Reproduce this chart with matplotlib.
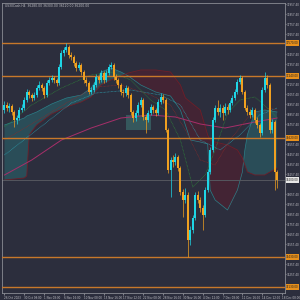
import matplotlib
matplotlib.use("Agg")
import matplotlib.pyplot as plt
from matplotlib.patches import Rectangle
import numpy as np

# ---------------- data ----------------
closes = [36950, 36920, 36940, 36880, 36800, 36820, 36900, 36920, 37000, 37080,
          37050, 37020, 37050, 37120, 37150, 37120, 37050, 37170, 37200, 37220,
          37200, 37170, 37330, 37470, 37500, 37530, 37450, 37430, 37370, 37320,
          37350, 37280, 37200, 37170, 37080, 37100, 37150, 37230, 37200, 37270,
          37200, 37270, 37330, 37350, 37230, 37200, 37150, 37080, 37070, 37120,
          37050, 36880, 36820, 36870, 36950, 37000, 36830, 36800, 36870, 36930,
          36900, 36870, 36980, 37030, 37000, 36700, 36300, 36400, 36380, 36430,
          36320, 36080, 36000, 36050, 35600, 35700, 35820, 36050, 36000, 35920,
          35850, 36100, 36280, 36500, 36800, 36920, 36880, 36920, 36870, 36930,
          36900, 36970, 37020, 37080, 37180, 37220, 37080, 36920, 36880, 36850,
          36900, 36800, 36750, 36670, 37100, 37220, 37150, 36700, 36780, 36280,
          36200]
opens = [36900, 36950, 36920, 36940, 36880, 36800, 36820, 36900, 36920, 37000,
         37080, 37050, 37020, 37050, 37120, 37150, 37120, 37050, 37170, 37200,
         37220, 37200, 37170, 37330, 37470, 37500, 37530, 37450, 37430, 37370,
         37320, 37350, 37280, 37200, 37170, 37080, 37100, 37150, 37230, 37200,
         37270, 37200, 37270, 37330, 37350, 37230, 37200, 37150, 37080, 37070,
         37120, 37050, 36880, 36820, 36870, 36950, 37000, 36830, 36800, 36870,
         36930, 36900, 36870, 36980, 37030, 37000, 36700, 36300, 36400, 36380,
         36430, 36320, 36080, 36000, 36050, 35600, 35700, 35820, 36050, 36000,
         35920, 35850, 36100, 36280, 36500, 36800, 36920, 36880, 36920, 36870,
         36930, 36900, 36970, 37020, 37080, 37180, 37220, 37080, 36920, 36880,
         36850, 36900, 36800, 36750, 36670, 37100, 37220, 37150, 36700, 36780,
         36280]
highs = [36990, 36980, 36970, 36960, 36900, 36850, 36930, 36960, 37030, 37110,
         37100, 37070, 37080, 37150, 37190, 37170, 37140, 37200, 37230, 37250,
         37240, 37220, 37360, 37500, 37530, 37570, 37550, 37480, 37450, 37390,
         37380, 37370, 37300, 37230, 37190, 37130, 37180, 37260, 37250, 37300,
         37290, 37300, 37360, 37380, 37370, 37260, 37220, 37170, 37110, 37150,
         37140, 37070, 36900, 36900, 36980, 37030, 37020, 36860, 36900, 36960,
         36950, 36920, 37010, 37070, 37060, 37020, 36720, 36430, 36450, 36470,
         36450, 36340, 36110, 36120, 36080, 35740, 35850, 36080, 36090, 36030,
         35950, 36130, 36310, 36530, 36830, 36950, 37000, 36960, 36950, 36970,
         36960, 37000, 37050, 37110, 37210, 37250, 37240, 37100, 36950, 36910,
         36930, 36920, 36830, 36770, 37130, 37280, 37250, 37170, 36810, 36800,
         36300]
lows = [36870, 36890, 36880, 36850, 36730, 36760, 36800, 36880, 36900, 36980,
        37020, 36990, 37000, 37030, 37100, 37090, 37020, 37030, 37150, 37180,
        37170, 37140, 37150, 37310, 37440, 37480, 37420, 37400, 37340, 37290,
        37300, 37250, 37170, 37140, 37060, 37060, 37080, 37130, 37170, 37180,
        37170, 37180, 37250, 37310, 37200, 37170, 37120, 37050, 37030, 37040,
        37020, 36850, 36780, 36790, 36850, 36930, 36800, 36670, 36780, 36850,
        36870, 36840, 36850, 36960, 36970, 36680, 36270, 36030, 36330, 36350,
        36290, 36050, 35830, 35970, 35430, 35550, 35670, 35800, 35970, 35880,
        35700, 35830, 36080, 36260, 36480, 36780, 36850, 36830, 36800, 36850,
        36860, 36880, 36950, 37000, 37060, 37160, 37060, 36900, 36850, 36820,
        36830, 36770, 36720, 36630, 36650, 37080, 37120, 36670, 36670, 36100,
        36120]

# Ichimoku cloud (Senkou span A / B) sampled at candle indices
cloud_idx = [0, 8, 9, 10, 13, 19, 25, 31, 35, 39, 43, 47, 50, 55, 61, 67, 71,
             73, 75, 79, 82, 83, 85, 90, 94, 96, 97, 98, 101, 105, 110]
span_a = [36750, 36820, 36840, 36850, 36880, 36960, 37020, 37050, 37120, 37280,
          37320, 37280, 37240, 37150, 37080, 37040, 36900, 36750, 36600, 36580,
          36560, 36100, 36000, 35900, 36100, 36280, 36500, 36650, 36880, 36900,
          36880]
span_b = [36200, 36220, 36240, 36650, 36750, 36860, 36930, 36980, 37030, 37150,
          37200, 37240, 37270, 37300, 37300, 37280, 37150, 37020, 36980, 36900,
          36650, 36600, 36580, 36550, 36500, 36420, 36350, 36280, 36250, 36250,
          36320]

# moving-average style lines
green_idx = [0, 11, 23, 35, 43, 51, 59, 65, 71, 76, 81, 85, 90, 95, 101, 107, 110]
green_val = [36730, 36950, 37120, 37250, 37280, 37200, 37000, 36900, 36600, 36130,
             36250, 36500, 36870, 37000, 37030, 36900, 36820]
red_idx = [0, 15, 27, 37, 47, 59, 67, 73, 79, 85, 91, 99, 107, 110]
red_val = [36600, 36820, 37000, 37130, 37150, 37050, 36950, 36700, 36400, 36350,
           36600, 36850, 36920, 36900]
cyan_idx = [0, 13, 27, 37, 51, 63, 71, 79, 87, 95, 103, 110]
cyan_val = [36450, 36700, 36970, 37070, 37100, 37050, 36950, 36600, 36500, 36650,
            36850, 36920]
magenta_idx = [0, 11, 23, 35, 47, 59, 69, 79, 89, 99, 110]
magenta_val = [36250, 36400, 36600, 36720, 36820, 36850, 36830, 36760, 36720,
               36770, 36820]

zone = {"start": 49, "end": 59, "low": 36700, "high": 36850}

levels = [37570, 37240, 36620, 35430, 35130]
current_price = 36200

price_ticks = [37957.4 - 100 * k for k in range(29)]
date_pos = [0, 8, 16, 24, 32, 40, 48, 56, 64, 72, 80, 88, 96, 104, 112]
date_labels = ["26 Oct 2023", "30 Oct 08:00", "1 Nov 08:00", "6 Nov 16:00",
               "10 Nov 08:00", "15 Nov 16:00", "17 Nov 12:00", "22 Nov 08:00",
               "28 Nov 16:00", "30 Nov 16:00", "4 Dec 12:00", "7 Dec 08:00",
               "11 Dec 16:00", "14 Dec 12:00", "18 Dec 08:00"]
header = "US30Cash,H4  36280.00 36300.00 36120.00 36200.00"

# ---------------- style ----------------
BG = "#2c2e3d"
UP = "#1fd6e6"
DN = "#f0a020"
LVL = "#c8782a"
TXT = "#c0c0c6"
FS = 2.0

fig = plt.figure(figsize=(3, 3), dpi=100, facecolor=BG)
ax = fig.add_axes([2 / 300, 7 / 300, 283 / 300, 290 / 300], facecolor=BG)

ax.set_xlim(-1, 113.2)
ax.set_ylim(35070, 37970)

ci = np.array(cloud_idx, dtype=float)
sa = np.array(span_a, dtype=float)
sb = np.array(span_b, dtype=float)
ax.fill_between(ci, sa, sb, where=sa >= sb, interpolate=True,
                color="#2a5f68", alpha=0.65, lw=0, zorder=1)
ax.fill_between(ci, sa, sb, where=sa < sb, interpolate=True,
                color="#4a2232", alpha=0.8, lw=0, zorder=1)
ax.plot(ci, sa, color="#2a7f88", lw=0.5, zorder=2)
ax.plot(ci, sb, color="#6e1e28", lw=0.6, zorder=2)

ax.add_patch(Rectangle((zone["start"], zone["low"]), zone["end"] - zone["start"],
                       zone["high"] - zone["low"], facecolor="#3d7b78",
                       alpha=0.55, lw=0, zorder=1.5))

ax.plot(magenta_idx, magenta_val, color="#a82e6a", lw=0.7, zorder=2)
ax.plot(cyan_idx, cyan_val, color="#2fa5b5", lw=0.5, ls=(0, (1, 1)), zorder=2)
ax.plot(red_idx, red_val, color="#8a2a2a", lw=0.5, ls=(0, (1, 1)), zorder=2)
ax.plot(green_idx, green_val, color="#2f8a3a", lw=0.5, ls=(0, (1, 1)), zorder=2)

for lv in levels:
    ax.axhline(lv, color=LVL, lw=1.0, zorder=3)
ax.axhline(current_price, color="#55575f", lw=0.7, zorder=2.5)

x = np.arange(len(closes))
o = np.array(opens, dtype=float)
c = np.array(closes, dtype=float)
h = np.array(highs, dtype=float)
l = np.array(lows, dtype=float)
cols = [UP if cc >= oo else DN for oo, cc in zip(o, c)]
ax.vlines(x, l, h, colors=cols, lw=0.5, zorder=4)
ax.bar(x, np.abs(c - o) + 8, bottom=np.minimum(o, c) - 4, width=0.8,
       color=cols, lw=0, zorder=5)

# axes
for side in ["left", "top", "right", "bottom"]:
    ax.spines[side].set_color("#8a8c94")
    ax.spines[side].set_linewidth(0.6)
ax.yaxis.tick_right()
marked = levels + [current_price]
shown = [p for p in price_ticks if min(abs(p - m) for m in marked) > 55]
ax.set_yticks(shown)
ax.set_yticklabels([f"{p:.2f}" for p in shown])
ax.tick_params(axis="y", colors=TXT, labelsize=FS, length=1.0, width=0.4, pad=0.5)
ax.set_xticks(date_pos)
ax.set_xticklabels(date_labels, ha="left")
ax.tick_params(axis="x", colors=TXT, labelsize=FS, length=1.2, width=0.4, pad=0.8)

# right axis labels for levels and current price
for lv in levels:
    ax.annotate(f"{lv:.2f}", xy=(1.0, lv), xycoords=("axes fraction", "data"),
                xytext=(0.8, 0), textcoords="offset points", fontsize=FS,
                color="#1c1c1c", va="center", ha="left", annotation_clip=False,
                bbox=dict(boxstyle="square,pad=0.2", fc="#e8901c", ec="none"),
                zorder=10)
ax.annotate(f"{current_price:.2f}", xy=(1.0, current_price),
            xycoords=("axes fraction", "data"), xytext=(0.8, 0),
            textcoords="offset points", fontsize=FS, color="#1c1c1c",
            va="center", ha="left", annotation_clip=False,
            bbox=dict(boxstyle="square,pad=0.2", fc="#e8e8e8", ec="none"),
            zorder=10)

ax.text(0.012, 0.995, header, transform=ax.transAxes, fontsize=2.2, color=TXT,
        va="top", ha="left")

fig.savefig("out.png", dpi=100, facecolor=BG)
